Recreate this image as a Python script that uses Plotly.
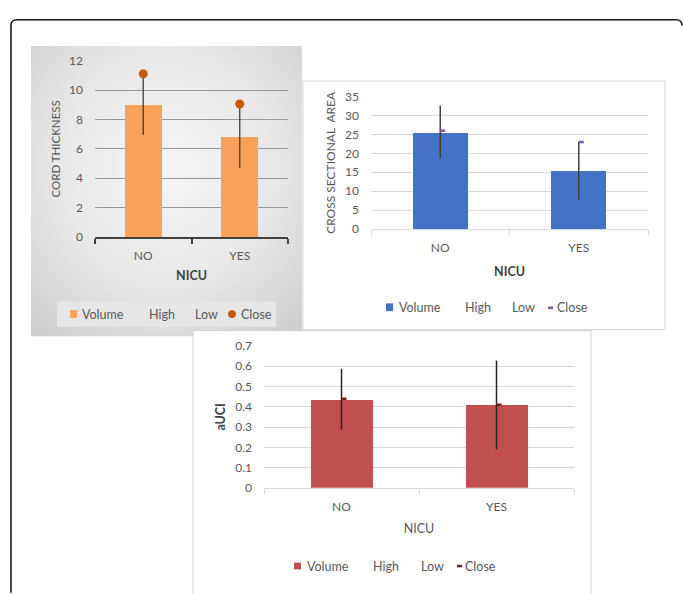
import base64
import plotly.graph_objects as go

W, H = 683, 594

# ---------------- data ----------------
categories = ["NO", "YES"]

cord_volume = [9.0, 6.8]
cord_high = [11.1, 9.05]
cord_low = [6.95, 4.7]
cord_close = [11.1, 9.05]

csa_volume = [25.6, 15.3]
csa_high = [32.7, 23.0]
csa_low = [18.7, 7.7]
csa_close = [26.0, 23.0]

auci_volume = [0.436, 0.407]
auci_high = [0.588, 0.628]
auci_low = [0.287, 0.19]
auci_close = [0.44, 0.41]

cord_ticks = [0, 2, 4, 6, 8, 10, 12]
csa_ticks = [0, 5, 10, 15, 20, 25, 30, 35]
auci_ticks = [0, 0.1, 0.2, 0.3, 0.4, 0.5, 0.6, 0.7]
legend_labels = ["Volume", "High", "Low", "Close"]

FONT = "Lato, 'Open Sans', sans-serif"
GRAY = "#595959"


def px(x):
    return x / W


def py(y):
    return 1 - y / H


idx = list(range(len(categories)))


def hl_xy(high, low):
    xs, ys = [], []
    for i, (h, l) in enumerate(zip(high, low)):
        xs += [i, i, None]
        ys += [h, l, None]
    return xs, ys


def dash_xy(close, off):
    xs, ys = [], []
    for i, c in enumerate(close):
        xs += [i, i + off, None]
        ys += [c, c, None]
    return xs, ys


fig = go.Figure()

# ---- Panel 1: cord thickness ----
fig.add_trace(go.Bar(x=idx, y=cord_volume, width=0.38, marker=dict(color="#F7A15A", line=dict(width=0)),
                     name="Volume", xaxis="x", yaxis="y", showlegend=False))
hx, hy = hl_xy(cord_high, cord_low)
fig.add_trace(go.Scatter(x=hx, y=hy, mode="lines", line=dict(color="#404040", width=1.3),
                         xaxis="x", yaxis="y", showlegend=False, name="High-Low"))
fig.add_trace(go.Scatter(x=idx, y=cord_close, mode="markers",
                         marker=dict(color="#C55A11", size=9, line=dict(width=0)),
                         xaxis="x", yaxis="y", showlegend=False, name="Close"))

# ---- Panel 2: cross sectional area ----
fig.add_trace(go.Bar(x=idx, y=csa_volume, width=0.4, marker=dict(color="#4472C4", line=dict(width=0)),
                     name="Volume", xaxis="x2", yaxis="y2", showlegend=False))
hx, hy = hl_xy(csa_high, csa_low)
fig.add_trace(go.Scatter(x=hx, y=hy, mode="lines", line=dict(color="#404040", width=1.5),
                         xaxis="x2", yaxis="y2", showlegend=False, name="High-Low"))
dx, dy = dash_xy(csa_close, 0.036)
fig.add_trace(go.Scatter(x=dx, y=dy, mode="lines", line=dict(color="#7B5AA6", width=2.5),
                         xaxis="x2", yaxis="y2", showlegend=False, name="Close"))

# ---- Panel 3: aUCI ----
fig.add_trace(go.Bar(x=idx, y=auci_volume, width=0.4, marker=dict(color="#C0504D", line=dict(width=0)),
                     name="Volume", xaxis="x3", yaxis="y3", showlegend=False))
hx, hy = hl_xy(auci_high, auci_low)
fig.add_trace(go.Scatter(x=hx, y=hy, mode="lines", line=dict(color="#262626", width=1.5),
                         xaxis="x3", yaxis="y3", showlegend=False, name="High-Low"))
dx, dy = dash_xy(auci_close, 0.032)
fig.add_trace(go.Scatter(x=dx, y=dy, mode="lines", line=dict(color="#7A1F1F", width=2.5),
                         xaxis="x3", yaxis="y3", showlegend=False, name="Close"))


def xaxis_cfg(domain, anchor, linecolor, linewidth, title, bold, standoff, tickcolor, lblstand):
    return dict(
        domain=domain, anchor=anchor, range=[-0.5, len(categories) - 0.5],
        tickmode="array", tickvals=idx, ticktext=categories,
        ticks="", showgrid=False, zeroline=False,
        showline=True, linecolor=linecolor, linewidth=linewidth,
        ticklabelstandoff=lblstand,
        tickfont=dict(family=FONT, size=12, color=GRAY),
        minor=dict(tickmode="array", tickvals=[-0.5, 0.5, 1.5], ticks="outside",
                   ticklen=5, tickwidth=linewidth, tickcolor=tickcolor, showgrid=False),
        title=dict(text=("<b>%s</b>" % title) if bold else title, standoff=standoff,
                   font=dict(family=FONT, size=12.5, color="#404040" if bold else GRAY)),
        fixedrange=True,
    )


def yaxis_cfg(domain, anchor, rng, tickvals, gridcolor, title, bold, standoff, size=12):
    return dict(
        domain=domain, anchor=anchor, range=rng,
        tickmode="array", tickvals=tickvals, ticktext=[str(v) for v in tickvals],
        showgrid=True, gridcolor=gridcolor, gridwidth=1, zeroline=False, showline=False,
        ticks="", ticklabelstandoff=11,
        tickfont=dict(family=FONT, size=12, color=GRAY),
        title=dict(text=("<b>%s</b>" % title) if bold else title, standoff=standoff,
                   font=dict(family=FONT, size=size, color="#404040" if bold else GRAY)),
        fixedrange=True,
    )


fig.update_layout(
    width=W, height=H,
    margin=dict(l=0, r=0, t=0, b=0),
    paper_bgcolor="white", plot_bgcolor="rgba(0,0,0,0)",
    font=dict(family=FONT, color=GRAY),
    showlegend=False,
    bargap=0,
    xaxis=xaxis_cfg([px(95), px(288)], "y", "#404040", 2, "NICU", True, 9, "#404040", 7),
    yaxis=yaxis_cfg([py(235), py(54)], "x", [0, 12], cord_ticks, "#979797", "CORD THICKNESS", False, 6, 11.5),
    xaxis2=xaxis_cfg([px(371), px(648)], "y2", "#d9d9d9", 1, "NICU", True, 12, "#d9d9d9", 8),
    yaxis2=yaxis_cfg([py(226.7), py(91)], "x2", [0, 35], csa_ticks, "#d9d9d9", "CROSS SECTIONAL  AREA", False, 6, 12),
    xaxis3=xaxis_cfg([px(264), px(574)], "y3", "#d9d9d9", 1, "NICU", False, 10, "#d9d9d9", 8),
    yaxis3=yaxis_cfg([py(492.3), py(346.7)], "x3", [0, 0.7], auci_ticks, "#d9d9d9", "aUCI", True, 6, 12.5),
)

# ---- Panel 1 gradient background (radial) ----
svg = ('<svg xmlns="http://www.w3.org/2000/svg" width="271" height="298" viewBox="0 0 271 298" '
       'preserveAspectRatio="none"><defs><radialGradient id="g" cx="50%" cy="42%" r="72%">'
       '<stop offset="0" stop-color="#f5f5f5"/><stop offset="0.55" stop-color="#e8e8e8"/>'
       '<stop offset="1" stop-color="#cfcfcf"/></radialGradient></defs>'
       '<rect width="271" height="298" fill="url(#g)"/></svg>')
src = "data:image/svg+xml;base64," + base64.b64encode(svg.encode()).decode()
fig.add_layout_image(dict(source=src, xref="paper", yref="paper", x=px(31), y=py(39),
                          sizex=271 / W, sizey=298 / H, sizing="stretch",
                          xanchor="left", yanchor="top", layer="below"))

shapes = []
# outer rounded frame
path = "M %f,%f L %f,%f Q %f,%f %f,%f L %f,%f Q %f,%f %f,%f" % (
    px(11), py(600), px(11), py(18), px(11), py(12), px(17), py(12),
    px(676), py(12), px(682), py(12), px(682), py(18))
shapes.append(dict(type="path", path=path, xref="paper", yref="paper",
                   line=dict(color="#1a1a1a", width=1.6), layer="below"))
# panel 1 legend box
shapes.append(dict(type="rect", xref="paper", yref="paper", x0=px(57), x1=px(276), y0=py(327), y1=py(301),
                   fillcolor="#e6e6e6", line=dict(width=0), layer="below"))
# panel 2 box
shapes.append(dict(type="rect", xref="paper", yref="paper", x0=px(303), x1=px(665), y0=py(330), y1=py(75),
                   fillcolor="white", line=dict(color="#d4d4d4", width=1), layer="below"))
# panel 3 box
shapes.append(dict(type="rect", xref="paper", yref="paper", x0=px(193), x1=px(591), y0=py(610), y1=py(331),
                   fillcolor="white", line=dict(color="#d4d4d4", width=1), layer="below"))

# legend symbols
shapes.append(dict(type="rect", xref="paper", yref="paper", x0=px(70), x1=px(77), y0=py(318), y1=py(310),
                   fillcolor="#F7A15A", line=dict(width=0)))
shapes.append(dict(type="circle", xref="paper", yref="paper", x0=px(228), x1=px(236), y0=py(318), y1=py(310),
                   fillcolor="#C55A11", line=dict(width=0)))
shapes.append(dict(type="rect", xref="paper", yref="paper", x0=px(386), x1=px(393), y0=py(311), y1=py(303),
                   fillcolor="#4472C4", line=dict(width=0)))
shapes.append(dict(type="line", xref="paper", yref="paper", x0=px(548), x1=px(553), y0=py(307.5), y1=py(307.5),
                   line=dict(color="#7B5AA6", width=2.5)))
shapes.append(dict(type="rect", xref="paper", yref="paper", x0=px(294), x1=px(301), y0=py(576), y1=py(569),
                   fillcolor="#C0504D", line=dict(width=0)))
shapes.append(dict(type="line", xref="paper", yref="paper", x0=px(457), x1=px(462), y0=py(572.5), y1=py(572.5),
                   line=dict(color="#7A1F1F", width=2.5)))
fig.update_layout(shapes=shapes)

# legend texts
legend_pos = [
    (314, [80, 147, 193, 239]),
    (307.5, [397, 463, 510, 555]),
    (572.5, [305, 371, 419, 463]),
]
for yy, xs in legend_pos:
    for lab, xx in zip(legend_labels, xs):
        fig.add_annotation(text=lab, xref="paper", yref="paper", x=px(xx), y=py(yy),
                           xanchor="left", yanchor="middle", showarrow=False,
                           font=dict(family=FONT, size=12.5, color=GRAY))

post = (
    "document.documentElement.style.margin='0';"
    "document.documentElement.style.padding='0';"
    "document.documentElement.style.overflow='hidden';"
    "document.body.style.margin='0';"
    "document.body.style.padding='0';"
    "document.body.style.overflow='hidden';"
    "var d=document.getElementById('{plot_id}');"
    "d.style.position='fixed';d.style.top='0px';d.style.left='0px';"
)
fig.write_html("out.html", config={"displayModeBar": False, "responsive": False}, post_script=post)
